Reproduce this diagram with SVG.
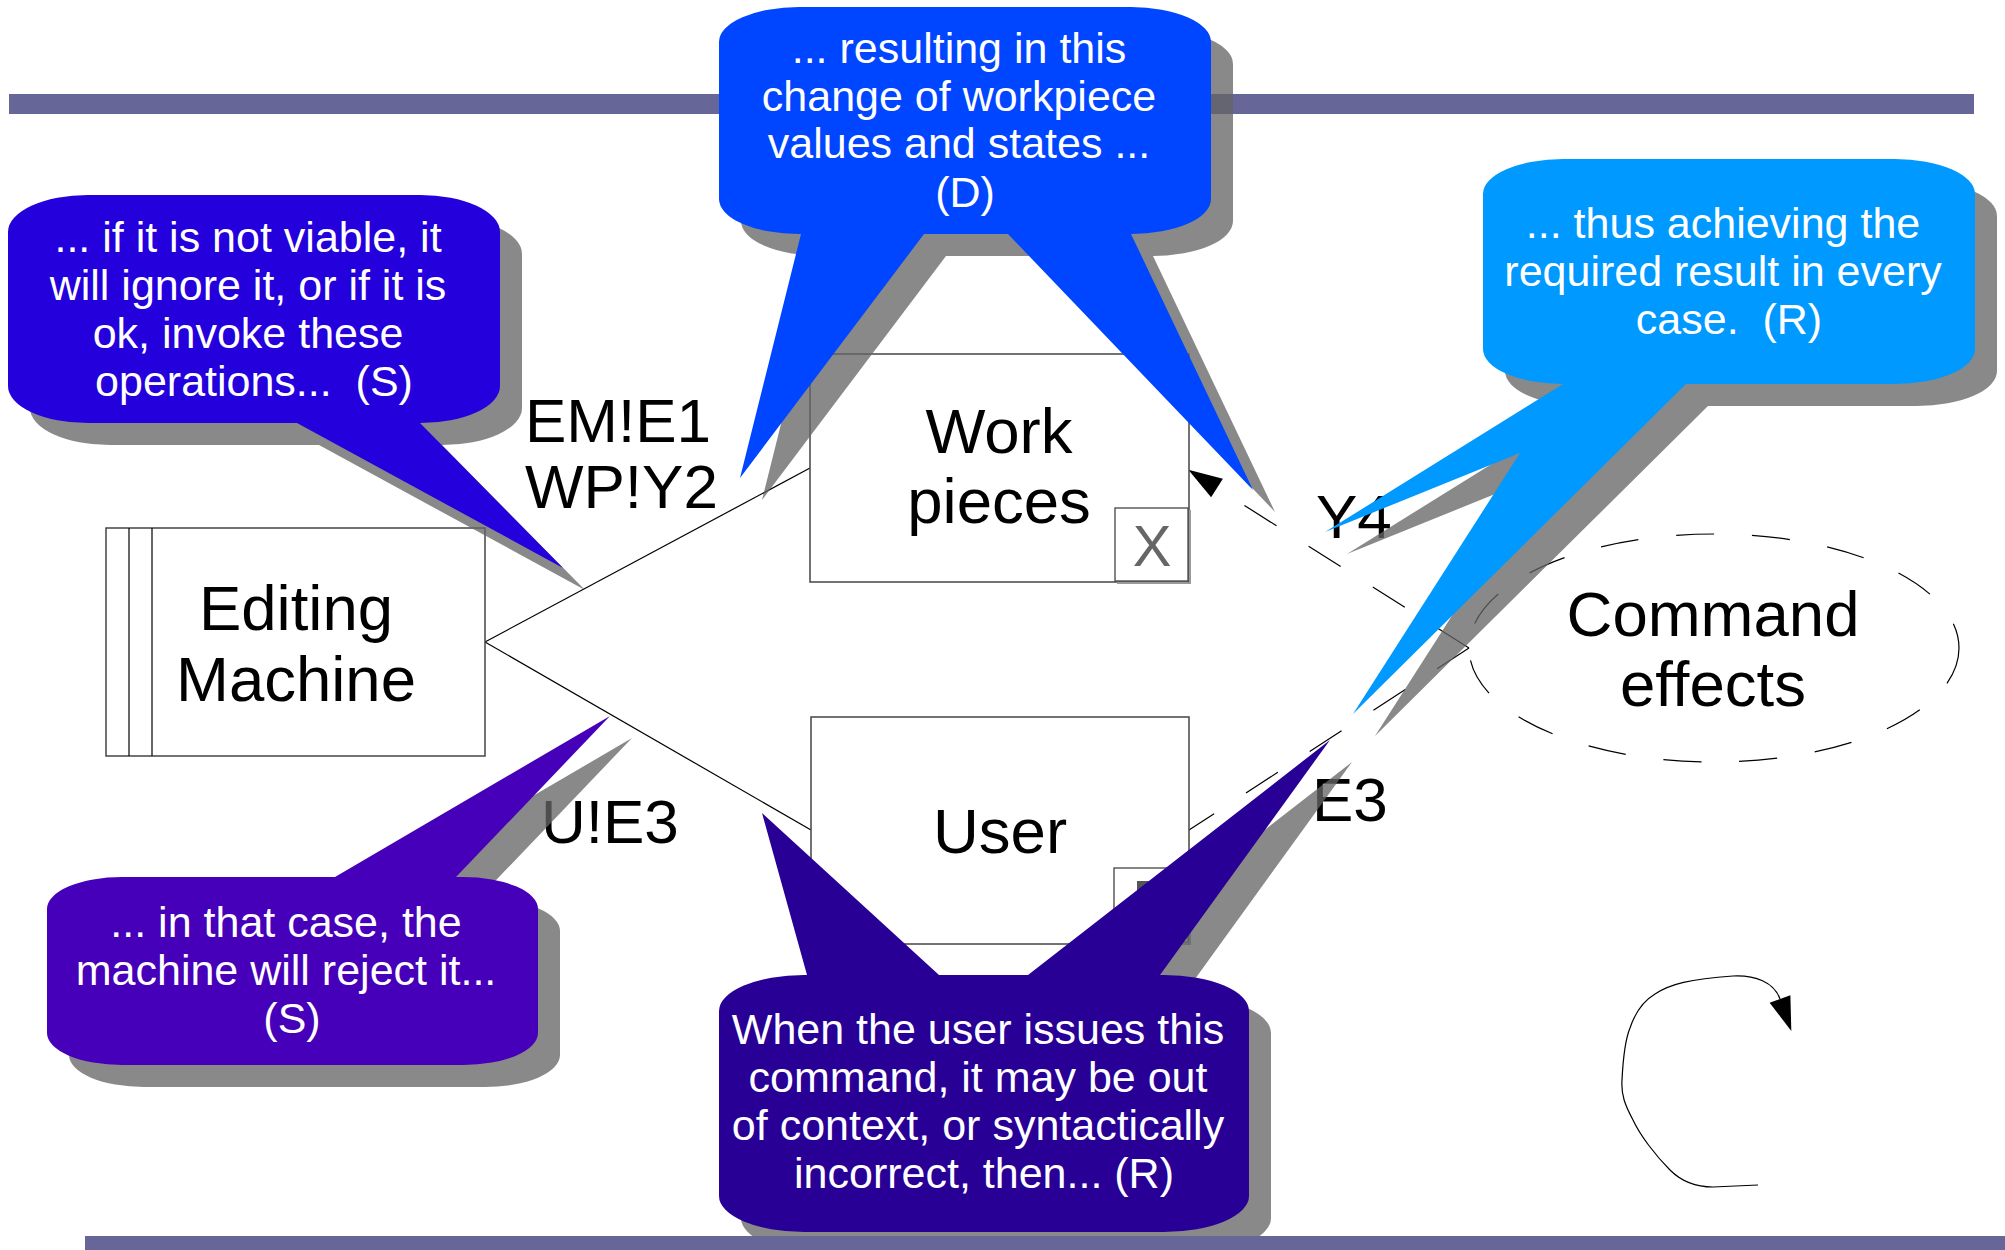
<svg xmlns="http://www.w3.org/2000/svg" xmlns:xlink="http://www.w3.org/1999/xlink" width="2005" height="1250" viewBox="0 0 2005 1250">
<style>
  .bar { fill: #666699; }
  .box { fill: #ffffff; stroke: #444444; stroke-width: 1.5; }
  .sub { fill: #ffffff; stroke: #444444; stroke-width: 1.3; }
  .subsh { fill: none; stroke: #999999; stroke-width: 2; }
  .conn { fill: none; stroke: #000000; stroke-width: 1.2; }
  .dash { fill: none; stroke: #000000; stroke-width: 1.2; stroke-dasharray: 38 38; }
  .lbl { font-family: "Liberation Sans", Arial, sans-serif; font-size: 62px; fill: #000000; }
  .node { font-family: "Liberation Sans", Arial, sans-serif; font-size: 63.5px; fill: #000000; text-anchor: middle; }
  .ct { font-family: "Liberation Sans", Arial, sans-serif; font-size: 43px; fill: #ffffff; text-anchor: middle; }
  .shadow { fill: #666666; fill-opacity: 0.77; }
</style>
<defs>
  <marker id="arrow" markerUnits="userSpaceOnUse" markerWidth="34" markerHeight="22" viewBox="0 0 34 22" refX="0" refY="11" orient="auto" overflow="visible">
    <path d="M0,0 L34,11 L0,22 Z" fill="#000000" stroke="none"/>
  </marker>
  <path id="p-c1" d="M88,195 H420 A80,37 0 0 1 500,232 V386 A80,37 0 0 1 420,423 L563,568 L297,423 H88 A80,37 0 0 1 8,386 V232 A80,37 0 0 1 88,195 Z"/>
  <path id="p-c2" d="M799,7 H1131 A80,35 0 0 1 1211,42 V199 A80,35 0 0 1 1131,234 L1253,490 L1008,234 H924 L740,478 L801,234 H799 A80,35 0 0 1 719,199 V42 A80,35 0 0 1 799,7 Z"/>
  <path id="p-c3" d="M1563,159 H1895 A80,35 0 0 1 1975,194 V349 A80,35 0 0 1 1895,384 H1686 L1353,714 L1520,453 L1325,532 L1563,384 A80,35 0 0 1 1483,349 V194 A80,35 0 0 1 1563,159 Z"/>
  <path id="p-c4" d="M122,877 H335 L610,716 L456,877 H463 A75,32 0 0 1 538,909 V1033 A75,32 0 0 1 463,1065 H122 A75,32 0 0 1 47,1033 V909 A75,32 0 0 1 122,877 Z"/>
  <path id="p-c5" d="M804,975 H807 L762,813 L939,975 H1028 L1330,740 L1160,975 H1164 A85,36 0 0 1 1249,1011 V1196 A85,36 0 0 1 1164,1232 H804 A85,36 0 0 1 719,1196 V1011 A85,36 0 0 1 804,975 Z"/>
</defs>

<rect width="2005" height="1250" fill="#ffffff"/>
<rect id="top-bar" class="bar" x="9" y="94" width="1965" height="20"/>

<g id="connectors">
  <path class="conn" d="M485,642 L810,468"/>
  <path class="conn" d="M485,642 L811,830"/>
  <path class="dash" d="M1469,648 L1217,488" marker-end="url(#arrow)"/>
  <path class="dash" d="M1469,648 L1189,830"/>
  <path class="conn" d="M1758,1185 L1713,1187 C1695,1187 1680,1180 1670,1170 C1655,1155 1640,1135 1633,1120 C1625,1105 1621,1095 1622,1080 C1623,1060 1625,1040 1630,1028 C1636,1010 1645,1000 1655,994 C1670,984 1690,979 1733,976 C1755,975 1774,982 1780,999" marker-end="url(#arrow)"/>
</g>

<g id="editing-machine">
  <rect class="box" x="106" y="528" width="379" height="228"/>
  <line class="conn" x1="129" y1="528" x2="129" y2="756"/>
  <line class="conn" x1="152" y1="528" x2="152" y2="756"/>
  <text class="node" x="296" y="630">Editing</text>
  <text class="node" x="296" y="701">Machine</text>
</g>

<g id="work-pieces">
  <rect class="box" x="810" y="354" width="379" height="228"/>
  <text class="node" x="999" y="453">Work</text>
  <text class="node" x="999" y="523">pieces</text>
  <rect class="sub" x="1115" y="508" width="73" height="73"/>
  <polyline class="subsh" points="1190,510 1190,583 1117,583"/>
  <text x="1152" y="566" font-family="Liberation Sans, Arial, sans-serif" font-size="58" fill="#666666" text-anchor="middle">X</text>
</g>

<g id="user">
  <rect class="box" x="811" y="717" width="378" height="227"/>
  <text class="node" x="1000" y="853">User</text>
  <rect class="sub" x="1114" y="868" width="74" height="74"/>
  <polyline class="subsh" points="1190,870 1190,944 1116,944"/>
  <rect x="1137" y="881" width="30" height="30" fill="#555555"/>
</g>

<g id="command-effects">
  <ellipse class="dash" cx="1714" cy="648" rx="245" ry="114"/>
  <text class="node" x="1713" y="636">Command</text>
  <text class="node" x="1713" y="706">effects</text>
</g>

<g id="labels">
  <text class="lbl" x="525" y="442">EM!E1</text>
  <text class="lbl" x="525" y="508">WP!Y2</text>
  <text class="lbl" x="541" y="843">U!E3</text>
  <text class="lbl" x="1316" y="538">Y4</text>
  <text class="lbl" x="1312" y="821">E3</text>
</g>

<g id="callout-s1">
  <use xlink:href="#p-c1" href="#p-c1" class="shadow" transform="translate(22,22)"/>
  <use xlink:href="#p-c1" href="#p-c1" fill="#2300dc"/>
  <text class="ct">
    <tspan x="254" y="252">... if it is not viable, it</tspan>
    <tspan x="254" y="300">will ignore it, or if it is</tspan>
    <tspan x="254" y="348">ok, invoke these</tspan>
    <tspan x="254" y="396">operations...&#160; (S)</tspan>
  </text>
</g>

<g id="callout-d">
  <use xlink:href="#p-c2" href="#p-c2" class="shadow" transform="translate(22,22)"/>
  <use xlink:href="#p-c2" href="#p-c2" fill="#0045ff"/>
  <text class="ct">
    <tspan x="965" y="63">... resulting in this</tspan>
    <tspan x="965" y="111">change of workpiece</tspan>
    <tspan x="965" y="158">values and states ...</tspan>
    <tspan x="965" y="207">(D)</tspan>
  </text>
</g>

<g id="callout-r1">
  <use xlink:href="#p-c3" href="#p-c3" class="shadow" transform="translate(22,22)"/>
  <use xlink:href="#p-c3" href="#p-c3" fill="#0099ff"/>
  <text class="ct">
    <tspan x="1729" y="238">... thus achieving the</tspan>
    <tspan x="1729" y="286">required result in every</tspan>
    <tspan x="1729" y="334">case.&#160; (R)</tspan>
  </text>
</g>

<g id="callout-s2">
  <use xlink:href="#p-c4" href="#p-c4" class="shadow" transform="translate(22,22)"/>
  <use xlink:href="#p-c4" href="#p-c4" fill="#4600b9"/>
  <text class="ct">
    <tspan x="292" y="937">... in that case, the</tspan>
    <tspan x="292" y="985">machine will reject it...</tspan>
    <tspan x="292" y="1033">(S)</tspan>
  </text>
</g>

<g id="callout-r2">
  <use xlink:href="#p-c5" href="#p-c5" class="shadow" transform="translate(22,22)"/>
  <use xlink:href="#p-c5" href="#p-c5" fill="#280096"/>
  <text class="ct">
    <tspan x="984" y="1044">When the user issues this</tspan>
    <tspan x="984" y="1092">command, it may be out</tspan>
    <tspan x="984" y="1140">of context, or syntactically</tspan>
    <tspan x="984" y="1188">incorrect, then... (R)</tspan>
  </text>
</g>

<rect id="bottom-bar" class="bar" x="85" y="1236" width="1920" height="14"/>
</svg>
